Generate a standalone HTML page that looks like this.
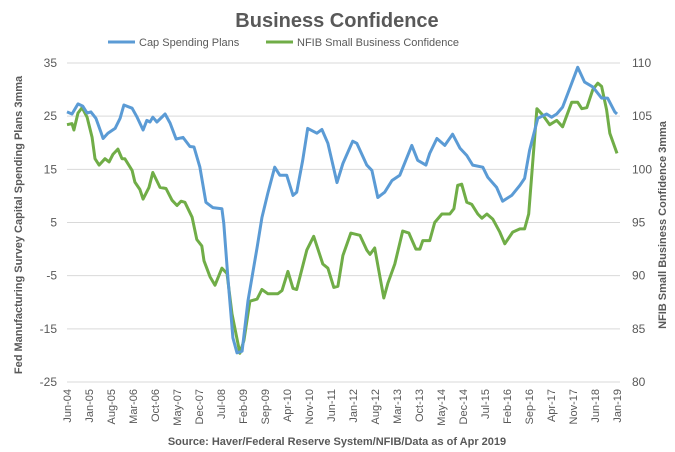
<!DOCTYPE html>
<html><head><meta charset="utf-8">
<style>
body{margin:0;background:#fff;font-family:"Liberation Sans",sans-serif;}
svg{display:block}
text{font-family:"Liberation Sans",sans-serif;fill:#595959}
</style></head>
<body>
<svg id="chart" width="675" height="452">
<text x="337" y="27" text-anchor="middle" font-size="20" font-weight="bold">Business Confidence</text>
<g>
<line x1="108" y1="42" x2="135" y2="42" stroke="#5B9BD5" stroke-width="3"/>
<text x="139" y="46" font-size="11">Cap Spending Plans</text>
<line x1="266" y1="42" x2="293" y2="42" stroke="#70AD47" stroke-width="3"/>
<text x="297" y="46" font-size="11">NFIB Small Business Confidence</text>
</g>
<text transform="translate(22,225) rotate(-90)" text-anchor="middle" font-size="11" font-weight="bold">Fed Manufacturing Survey Capital Spending Plans 3mma</text>
<text transform="translate(666,225) rotate(-90)" text-anchor="middle" font-size="11" font-weight="bold">NFIB Small Business Confidence 3mma</text>
<text x="337" y="445" text-anchor="middle" font-size="11" font-weight="bold">Source: Haver/Federal Reserve System/NFIB/Data as of Apr 2019</text>
<g id="grid"></g><g id="axes"></g><g id="series"></g>
</svg>
<script>
const leftTicks=[35,25,15,5,-5,-15,-25];
const rightTicks=[110,105,100,95,90,85,80];
const xLabels=["Jun-04","Jan-05","Aug-05","Mar-06","Oct-06","May-07","Dec-07","Jul-08","Feb-09","Sep-09","Apr-10","Nov-10","Jun-11","Jan-12","Aug-12","Mar-13","Oct-13","May-14","Dec-14","Jul-15","Feb-16","Sep-16","Apr-17","Nov-17","Jun-18","Jan-19"];
const capMonths=[0,1.6,3.5,5,6.4,7.6,9.2,10.8,11.5,13,15.3,16.9,18.1,20.7,22.3,24.2,25.4,26.4,27.3,28.6,31.2,32.8,34.7,36.9,39.1,40.4,42.3,44.2,46.4,49.3,49.9,51.2,52.8,54.1,55.7,57.6,60.5,62,63.9,66.1,67.7,69.9,71.9,73.1,75,76.6,79.5,81.1,83,85.9,87.8,90.9,92.2,95.4,97,98.9,101.1,103.4,105.9,109.7,111.6,114.2,115.4,117.7,120.2,122.7,125,127.2,129.1,132.3,133.9,136.7,138.6,141.5,144.1,145.6,147.2,149.8,152.6,154.2,155.8,157.7,160,162.5,164.7,167.3,170.1,172,174.3,175];
const capValues=[25.8,25.4,27.3,26.9,25.6,25.8,24.6,22,20.8,21.8,22.7,24.6,27.1,26.5,24.8,22.4,24.2,23.9,24.8,23.9,25.4,23.7,20.7,21,19.3,19.2,15.4,8.8,7.8,7.6,4.8,-5.4,-16.7,-19.5,-19.2,-9.7,0.3,5.9,10.5,15.4,13.9,13.9,10.1,10.7,16.7,22.7,21.8,22.5,19.9,12.5,16.1,20.3,19.9,15.8,14.8,9.7,10.7,12.9,13.9,19.5,16.7,15.8,18,20.8,19.5,21.6,19,17.6,15.8,15.4,13.5,11.6,9,10.1,12,13.3,18.6,24.6,25.4,24.8,25.4,26.7,30.3,34.2,31.4,30.5,28.4,28.4,25.8,25.4];
const nfibMonths=[0,1.6,2.2,3.5,4.8,6.4,8,8.9,10.2,12.1,13.4,14.6,16.2,17.5,18.4,20.7,21.6,23.2,24.2,26.1,27.3,29.6,31.5,33.4,35,36.3,37.5,39.8,41.3,42.9,43.6,45.5,47.1,49.3,50.9,52.5,55,56.3,58.2,60.5,62,63.9,67.1,68.4,70.3,71.9,73.1,76.3,78.5,81.4,83,84.9,86.2,87.8,90.3,93.2,95.4,96.4,97.9,100.8,102.1,104.3,106.8,108.8,111,112.3,113.2,115.4,117,119.3,121.8,123.1,124.3,125.6,127.2,128.8,130.7,132,133.6,135.5,137.7,139.3,141.8,144.1,145.6,146.9,149.5,151.4,153.6,155.8,157.7,160.6,162.5,163.8,165.4,167.3,168.9,170.1,171.7,172.7,175];
const nfibValues=[104.2,104.3,103.7,105.3,105.8,104.9,103,101,100.4,101,100.7,101.4,101.9,101,101,99.9,98.8,98.1,97.2,98.3,99.7,98.3,98.2,97.1,96.6,97,96.9,95.5,93.4,92.8,91.4,89.9,89.1,90.7,90.2,86.4,82.7,83.9,87.6,87.8,88.7,88.3,88.3,88.6,90.4,88.8,88.7,92.4,93.7,91.1,90.7,88.9,89,91.9,94,93.8,92.4,92,92.6,87.9,89.3,91.1,94.2,94,92.5,92.5,93.3,93.3,95,95.8,95.8,96.3,98.5,98.6,96.9,96.7,95.8,95.4,95.8,95.3,94.1,93,94.1,94.4,94.4,95.8,105.7,105.1,104.2,104.6,104,106.3,106.3,105.7,105.8,107.5,108.1,107.8,105.6,103.4,101.5];

const NS="http://www.w3.org/2000/svg";
const X0=67,X1=617,Y0=63,Y1=382,TOTAL=175;
const xs=m=>X0+(m/TOTAL)*(X1-X0);
const yL=v=>Y0+(35-v)/60*(Y1-Y0);
const yR=v=>Y0+(110-v)/30*(Y1-Y0);
function mk(tag,attrs,parent){const e=document.createElementNS(NS,tag);for(const k in attrs)e.setAttribute(k,attrs[k]);parent.appendChild(e);return e;}
const grid=document.getElementById('grid'),axes=document.getElementById('axes'),series=document.getElementById('series');
leftTicks.forEach((t,i)=>{
  const y=yL(t);
  const g=mk('line',{x1:X0,x2:X1+3,y1:y,y2:y,stroke:'#d9d9d9','stroke-width':1},grid);
  
  
  const lt=mk('text',{x:57,y:y+4,'text-anchor':'end','font-size':12},axes);
  lt.textContent=t;
  
  
  const rt=mk('text',{x:632,y:y+4,'font-size':12},axes);
  rt.textContent=rightTicks[i];
  
  
});
xLabels.forEach((l,i)=>{
  const x=xs(i*7);
  const t=mk('text',{transform:`translate(${x+4},${Y1+7}) rotate(-90)`,'text-anchor':'end','font-size':11},axes);
  t.textContent=l;
  
  
});
function line(ms,vs,ysc,color,name){
  const d=ms.map((m,i)=>(i?'L':'M')+xs(m).toFixed(1)+','+ysc(vs[i]).toFixed(1)).join('');
  const p=mk('path',{d:d,fill:'none',stroke:color,'stroke-width':3,'stroke-linejoin':'round'},series);
  
  
}
line(nfibMonths,nfibValues,yR,'#70AD47','nfib-line');
line(capMonths,capValues,yL,'#5B9BD5','cap-spending-line');
</script>
</body></html>
